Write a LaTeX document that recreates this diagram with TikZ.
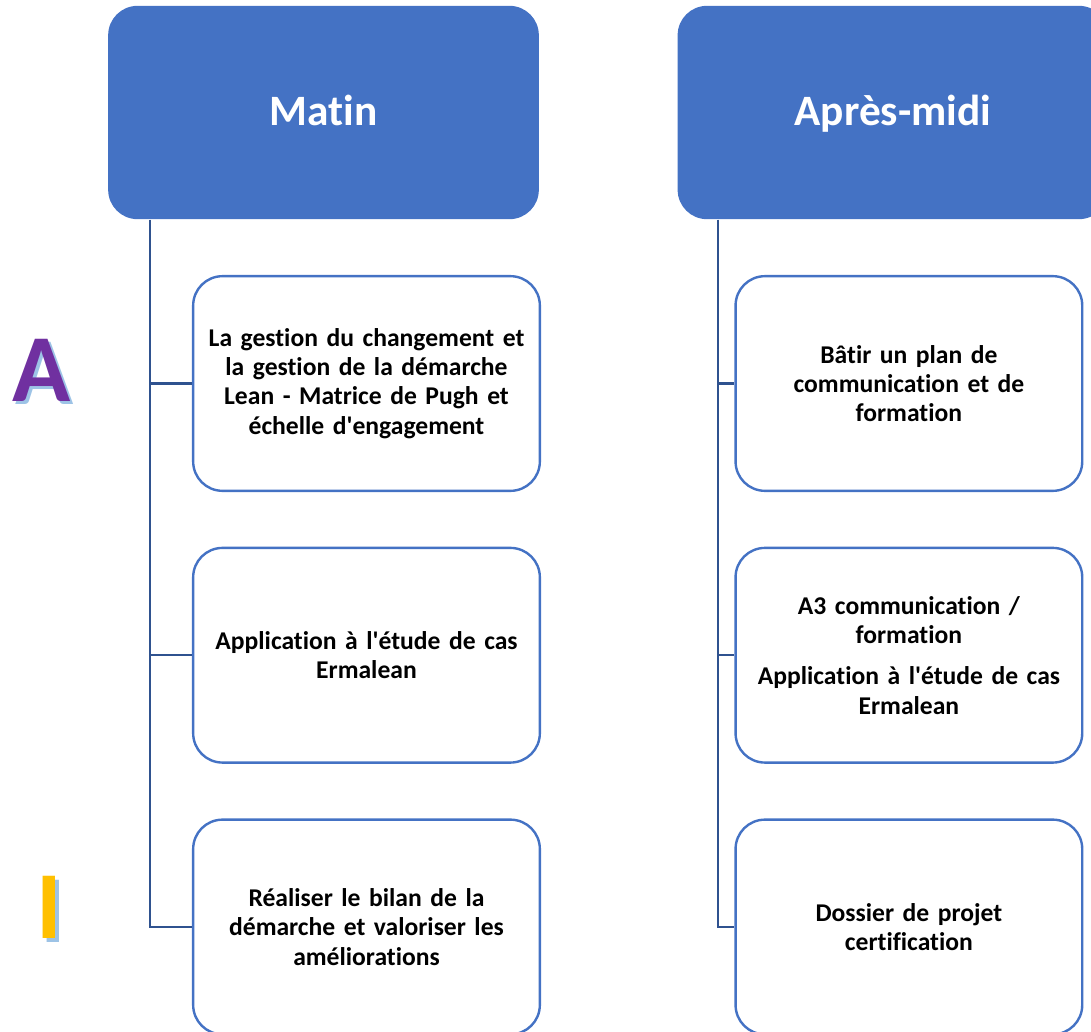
\documentclass[tikz,border=0pt]{standalone}
\usepackage{fontspec}
\setmainfont{Carlito}[Ligatures={CommonOff,TeXOff}]
\usepackage{xcolor}
\usetikzlibrary{positioning}
\definecolor{headblue}{HTML}{4472C4}
\definecolor{trunkblue}{HTML}{2F528F}
\definecolor{letterpurple}{HTML}{7030A0}
\definecolor{lettergold}{HTML}{FFC000}
\definecolor{shadowblue}{HTML}{9DC3E6}

\begin{document}
\begin{tikzpicture}[x=0.75pt,y=-0.75pt,node distance=41pt,semithick]
  \tikzstyle{head}=[fill=headblue, rounded corners=22pt, minimum width=323pt, minimum height=160pt, text=white, text height=25pt, text depth=5pt, font=\fontsize{32.5}{39}\selectfont\bfseries]
  \tikzstyle{topic}=[draw=headblue, line width=1.8pt, fill=white, rounded corners=22pt, minimum width=260pt, minimum height=161pt, text width=250pt, align=center, font=\fontsize{19.2}{22}\selectfont\bfseries]
  \tikzstyle{branch}=[draw=trunkblue, line width=1.7pt]
  \tikzstyle{big}=[font=\fontsize{72}{80}\selectfont\bfseries, inner sep=0pt]

  \useasboundingbox (0,0) rectangle (1091,1031);
  \clip (0,0) rectangle (1091,1031);

  % column headers
  \node[head] (matin) at (323.5,112.5) {Matin};
  \node[head] (apres) [right=103.5pt of matin] {Après-midi};

  % morning
  \node[topic] (m1) at (366.5,383.5) {La gestion du changement et\\ la gestion de la démarche\\ Lean - Matrice de Pugh et\\ échelle d'engagement};
  \node[topic] (m2) [below=of m1] {Application à l'étude de cas\\ Ermalean};
  \node[topic] (m3) [below=of m2] {Réaliser le bilan de la\\ démarche et valoriser les\\ améliorations};

  % afternoon
  \node[topic] (a1) [right=145pt of m1] {Bâtir un plan de\\ communication et de\\ formation};
  \node[topic] (a2) [right=145pt of m2] {A3 communication /\\ formation\\[9pt] Application à l'étude de cas\\ Ermalean};
  \node[topic] (a3) [right=145pt of m3] {Dossier de projet\\ certification};

  \coordinate (lstem) at (150,0);
  \coordinate (rstem) at (718,0);
  \path[branch]
    (matin.south -| lstem) |- (m3.west)
    (m1.west -| lstem) -- (m1.west)
    (m2.west -| lstem) -- (m2.west)
    (apres.south -| rstem) |- (a3.west)
    (a1.west -| rstem) -- (a1.west)
    (a2.west -| rstem) -- (a2.west);

  % side letters
  \node[big, text=shadowblue] (ashadow) at (45,373) {A};
  \node[big, text=letterpurple] (aletter) at (42,370) {A};
  \node[big, text=shadowblue] (ishadow) at (53,911) {I};
  \node[big, text=lettergold] (iletter) at (49,907) {I};
\end{tikzpicture}
\end{document}
